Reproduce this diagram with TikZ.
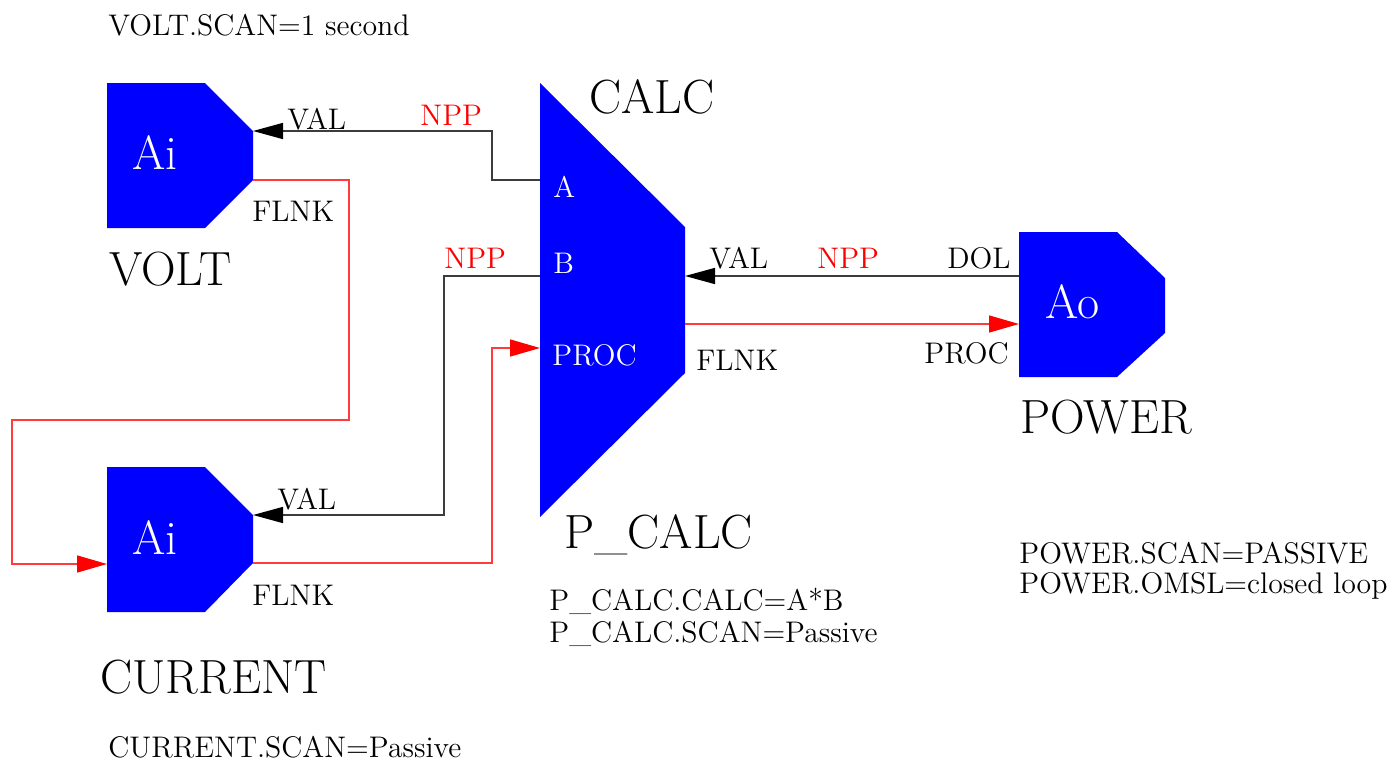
\documentclass[tikz,border=0pt]{standalone}
\usetikzlibrary{arrows.meta}
\definecolor{lnk}{RGB}{60,60,60}
\definecolor{fwdred}{RGB}{255,60,60}
\begin{document}
\begin{tikzpicture}[x=0.5pt,y=-0.5pt,
  sm/.style={font=\fontsize{14.9}{18}\selectfont, anchor=base west, inner sep=0pt},
  lg/.style={font=\fontsize{24}{28}\selectfont, anchor=base west, inner sep=0pt},
  wt/.style={text=white},
  rd/.style={text=red},
  blockfill/.style={fill=blue},
  link/.style={draw=lnk, line width=0.75pt, -{Triangle[length=15pt,width=8pt,color=black]}},
  fwd/.style={draw=fwdred, line width=0.75pt, -{Triangle[length=15pt,width=8.5pt,color=red]}}
]
\useasboundingbox (0,0) rectangle (1399,761);

% blocks
\fill[blockfill] (107,83) -- (205,83) -- (253,131) -- (253,180) -- (205,228) -- (107,228) -- cycle;
\fill[blockfill] (107,467) -- (205,467) -- (253,515) -- (253,563) -- (205,612) -- (107,612) -- cycle;
\fill[blockfill] (540,83) -- (685,227) -- (685,373) -- (540,517) -- cycle;
\fill[blockfill] (1019,232) -- (1117,232) -- (1165,278) -- (1165,333) -- (1117,377) -- (1019,377) -- cycle;

% ports
\coordinate (voltVAL) at (253,131);
\coordinate (voltFLNK) at (253,180);
\coordinate (curVAL) at (253,515);
\coordinate (curFLNK) at (253,563);
\coordinate (curIN) at (107,564);
\coordinate (calcA) at (540,180);
\coordinate (calcB) at (540,276);
\coordinate (calcPROC) at (540,348);
\coordinate (calcVAL) at (685,276);
\coordinate (calcFLNK) at (685,324);
\coordinate (powDOL) at (1019,276);
\coordinate (powPROC) at (1019,324);

% connectors
\draw[link] (calcA) -- (492,180) |- (voltVAL);
\draw[link] (calcB) -- (444,276) |- (curVAL);
\draw[fwd] (voltFLNK) -| (349,420) -| (12,564) -- (curIN);
\draw[fwd] (curFLNK) -| (492,348) -- (calcPROC);
\draw[link] (powDOL) -- (calcVAL);
\draw[fwd] (calcFLNK) -- (powPROC);

% texts
\node[sm] (tVoltScan) at (108,35) {VOLT.SCAN=1 second};
\node[lg] (tVolt) at (109,285) {VOLT};
\node[lg,wt] (tAiV) at (132,169) {Ai};
\node[lg,wt] (tAiC) at (132,554) {Ai};
\node[sm] (tValV) at (287,129) {VAL};
\node[sm,rd] (tNppA) at (420,125) {NPP};
\node[sm] (tFlnkV) at (252,221) {FLNK};
\node[lg] (tCalc) at (589,113) {CALC};
\node[sm,wt] (tA) at (553,197) {A};
\node[sm,wt] (tB) at (553,273) {B};
\node[sm,wt] (tProcC) at (552,365) {PROC};
\node[sm,rd] (tNppB) at (444,268) {NPP};
\node[sm] (tValC) at (277,509) {VAL};
\node[sm] (tFlnkC) at (252,605) {FLNK};
\node[lg] (tCurrent) at (100,693) {CURRENT};
\node[sm] (tCurScan) at (108,757) {CURRENT.SCAN=Passive};
\node[lg] (tPCalc) at (564,548) {P\_CALC};
\node[sm] (tPCalcCalc) at (549,610) {P\_CALC.CALC=A*B};
\node[sm] (tPCalcScan) at (549,642) {P\_CALC.SCAN=Passive};
\node[sm] (tValP) at (709,268) {VAL};
\node[sm,rd] (tNppP) at (817,268) {NPP};
\node[sm] (tDol) at (947,268) {DOL};
\node[lg,wt] (tAo) at (1045,318) {Ao};
\node[sm] (tFlnkP) at (696,370) {FLNK};
\node[sm] (tProcP) at (924,363) {PROC};
\node[lg] (tPower) at (1020,433) {POWER};
\node[sm] (tPowScan) at (1019,563) {POWER.SCAN=PASSIVE};
\node[sm] (tPowOmsl) at (1019,593) {POWER.OMSL=closed loop};
\end{tikzpicture}
\end{document}
